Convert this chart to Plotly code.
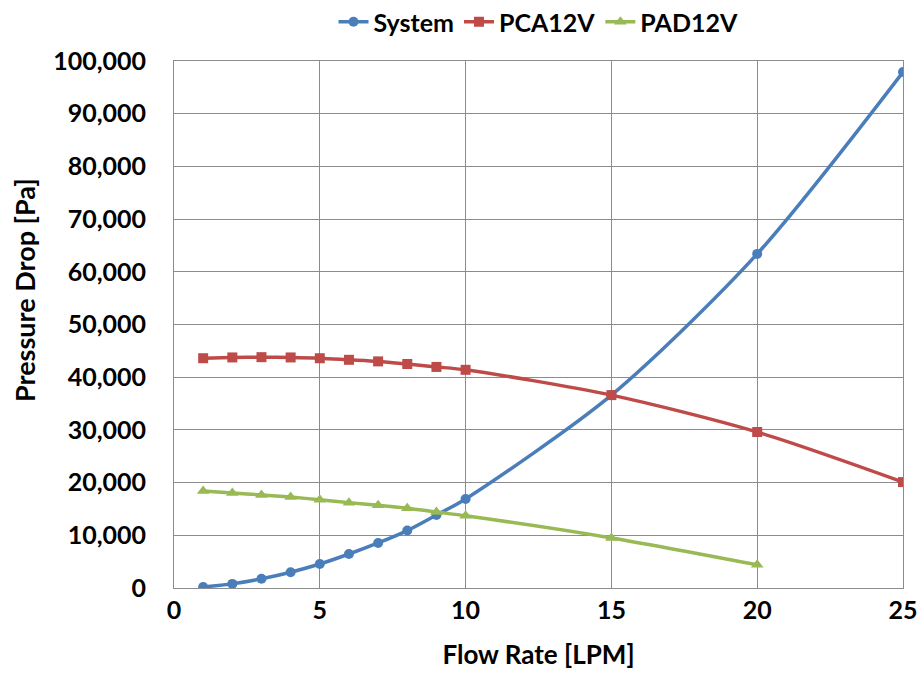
import plotly.graph_objects as go

# Flow rate samples [LPM]
flow_system = [1, 2, 3, 4, 5, 6, 7, 8, 9, 10, 15, 20, 25]
flow_pca = [1, 2, 3, 4, 5, 6, 7, 8, 9, 10, 15, 20, 25]
flow_pad = [1, 2, 3, 4, 5, 6, 7, 8, 9, 10, 15, 20]

# Pressure drop [Pa]
dp_system = [200, 780, 1750, 3000, 4550, 6450, 8550, 10900, 13850, 16900, 36600, 63400, 97900]
dp_pca = [43600, 43750, 43800, 43750, 43600, 43300, 43000, 42500, 41950, 41400, 36600, 29600, 20100]
dp_pad = [18400, 18050, 17650, 17250, 16750, 16200, 15700, 15150, 14400, 13700, 9500, 4400]

FONT = "Lato, Carlito, Calibri, sans-serif"
GRID = "#8c8c8c"
FS = 25

fig = go.Figure()

series = [
    ("System", flow_system, dp_system, "#4A7EBB", "circle", 10),
    ("PCA12V", flow_pca, dp_pca, "#BE4B48", "square", 10),
    ("PAD12V", flow_pad, dp_pad, "#98B954", "triangle-up", 11),
]
for name, x, y, color, symbol, size in series:
    fig.add_trace(go.Scatter(
        x=x, y=y, name=name, mode="lines+markers",
        line=dict(color=color, width=3.5, shape="spline", smoothing=0.8),
        marker=dict(color=color, symbol=symbol, size=size),
    ))

# Layout in pixels: plot area spans x 174..903, y 61..588
L, R, T, B = 174, 15, 61, 100
W, H = 918, 688
pw, ph = W - L - R, H - T - B

fig.update_layout(
    width=W, height=H,
    margin=dict(l=L, r=R, t=T, b=B, autoexpand=False),
    paper_bgcolor="white", plot_bgcolor="white",
    font=dict(family=FONT, size=FS, color="black"),
    showlegend=True,
    legend=dict(
        orientation="h", x=0.5, xanchor="center",
        yref="container", y=1 - 22 / H, yanchor="middle",
        font=dict(family=FONT, size=FS, color="black", weight="bold"),
        bgcolor="rgba(0,0,0,0)",
        itemwidth=30, tracegroupgap=0,
    ),
    xaxis=dict(
        range=[0, 25], dtick=5, tick0=0, automargin=False,
        showgrid=True, gridcolor=GRID, gridwidth=1,
        showline=True, linecolor=GRID, linewidth=1, mirror=True,
        zeroline=False, ticks="",
        tickfont=dict(family=FONT, size=FS, weight="bold"),
        title=dict(text="<b>Flow Rate [LPM]</b>", font=dict(family=FONT, size=26), standoff=22),
    ),
    yaxis=dict(
        range=[0, 100000], dtick=10000, tick0=0, automargin=False,
        tickformat=",d",
        showgrid=True, gridcolor=GRID, gridwidth=1,
        showline=True, linecolor=GRID, linewidth=1, mirror=True,
        zeroline=False, ticks="",
        ticklabelstandoff=22,
        tickfont=dict(family=FONT, size=FS, weight="bold"),
    ),
    annotations=[dict(
        text="<b>Pressure Drop [Pa]</b>", textangle=-90,
        xref="paper", yref="paper",
        x=(24 - L) / pw, y=(H - B - 290) / ph,
        xanchor="center", yanchor="middle", showarrow=False,
        font=dict(family=FONT, size=27, color="black"),
    )],
)

fig.write_html("out.html")
